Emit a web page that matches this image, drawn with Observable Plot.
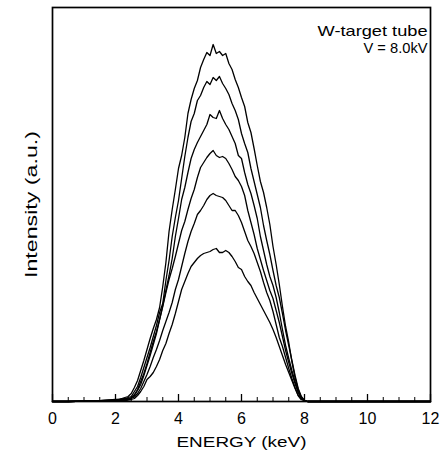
<!DOCTYPE html>
<html><head><meta charset="utf-8">
<script src="https://cdn.jsdelivr.net/npm/d3@7"></script>
<script src="https://cdn.jsdelivr.net/npm/@observablehq/plot@0.6"></script>
<style>body{margin:0;background:#fff;}</style>
</head><body><div id="chart"></div>
<script>
const energy = [0,0.5,1,1.5,2,2.1,2.2,2.3,2.4,2.5,2.6,2.7,2.8,2.9,3,3.1,3.2,3.3,3.4,3.5,3.6,3.7,3.8,3.9,4,4.1,4.2,4.3,4.4,4.5,4.6,4.7,4.8,4.9,5,5.1,5.2,5.3,5.4,5.5,5.6,5.7,5.8,5.9,6,6.1,6.2,6.3,6.4,6.5,6.6,6.7,6.8,6.9,7,7.1,7.2,7.3,7.4,7.5,7.6,7.7,7.8,7.9,8,8.1,8.5,9,9.5,10,10.5,11,11.5,12];
const curve1 = [0,0,0.3,0.8, 2,2,3,4,5,8,14,21,31,41, 52,63,73,82,94,115,139,170,192,212, 233,246,264,288,302,313,321,334,342,349, 346,357,348,350,346,348,338,332,322,314, 304,295,279,269,253,236,220,209,194,177, 155,137,117,95,75,59,40,24,12,4, 1,0, 0,0,0,0,0,0,0,0];
const curve2 = [0,0,0.3,0.8, 1.5,2,2.5,3,4,5,10,15,24,34, 44,54,65,76,89,98,121,141,165,184, 201,223,245,264,280,288,301,306,314,320, 317,324,321,325,318,313,307,298,291,282, 268,258,249,233,220,207,194,176,161,147, 131,116,104,88,71,56,41,26,13,5, 1,0, 0,0,0,0,0,0,0,0];
const curve3 = [0,0,0.3,0.8, 1,1.5,2,2.5,3,4,7,12,20,28, 38,49,60,70,82,96,111,126,143,165, 183,202,214,229,243,252,259,265,271,277, 287,284,283,291,283,277,272,265,258,246, 243,229,217,208,196,183,165,151,137,125, 116,104,89,72,56,43,31,20,10,4, 1,0, 0,0,0,0,0,0,0,0];
const curve4 = [0,0,0.3,0.8, 1,1,1.5,2,2.5,3.5,6,11,17,26, 36,46,57,68,82,95,109,122,133,145, 158,171,180,192,203,212,224,234,239,244, 248,251,246,244,245,243,238,232,225,221, 215,206,191,179,167,153,142,131,121,111, 103,91,79,65,51,39,28,18,9,3, 1,0, 0,0,0,0,0,0,0,0];
const curve5 = [0,0,0.3,0.8, 1,1,1,1.5,2,3,4.5,8,13,20, 27,35,44,52,61,71,80,89,99,112, 122,135,148,160,170,178,187,191,196,202, 206,208,206,205,204,201,196,191,191,186, 179,170,161,155,148,139,130,119,109,101, 90,77,64,55,44,33,23,14,6,2, 1,0, 0,0,0,0,0,0,0,0];
const curve6 = [0,0,0.3,0.8, 0.5,1,1,1,1.5,2,3,6,10,15, 22,25,29,35,42,51,58,68,77,88, 100,112,120,128,135,139,143,146,148,149, 150,152,153,149,149,151,149,145,140,134, 132,125,120,116,109,103,97,91,85,79, 72,64,55,46,37,29,21,13,6,2, 1,0, 0,0,0,0,0,0,0,0];
const xTicks = [0,2,4,6,8,10,12];
const minorTicks = [0.5,1,1.5,2.5,3,3.5,4.5,5,5.5,6.5,7,7.5,8.5,9,9.5,10.5,11,11.5];
const xLabel = "ENERGY (keV)";
const yLabel = "Intensity (a.u.)";
const note = ["W-target tube", "V = 8.0kV"];

const series = [curve1, curve2, curve3, curve4, curve5, curve6];
const rows = series.flatMap((vals, i) => vals.map((v, j) => ({energy: energy[j], intensity: v, s: i})));

const chart = Plot.plot({
  width: 443, height: 455,
  marginLeft: 52, marginRight: 13, marginTop: 7, marginBottom: 54,
  style: {fontFamily: "'Liberation Sans', Arial, sans-serif", background: "white", color: "black"},
  x: {domain: [0, 12]},
  y: {domain: [0, 394]},
  marks: [
    Plot.line(rows, {x: "energy", y: "intensity", z: "s", stroke: "black", strokeWidth: 1.3}),
    Plot.tickX(minorTicks, {x: d => d, stroke: "black", strokeWidth: 1, insetTop: 390}),
    Plot.tickX(xTicks, {x: d => d, stroke: "black", strokeWidth: 1.3, insetTop: 387}),
    Plot.axisX({ticks: xTicks, tickSize: 0, tickPadding: 11, fontSize: 16, label: null}),
    Plot.axisY({ticks: [], label: null}),
    Plot.frame({stroke: "black", strokeWidth: 1.7}),
    Plot.text([xLabel], {text: d => d, frameAnchor: "bottom", textAnchor: "middle", lineAnchor: "bottom", dy: 45, fontSize: 15}),
    Plot.text([yLabel], {text: d => d, frameAnchor: "left", textAnchor: "middle", lineAnchor: "middle", rotate: -90, dx: -21, fontSize: 17}),
    Plot.text([note[0]], {text: d => d, frameAnchor: "top-right", textAnchor: "end", lineAnchor: "top", dx: -3, dy: 18, fontSize: 15}),
    Plot.text([note[1]], {text: d => d, frameAnchor: "top-right", textAnchor: "end", lineAnchor: "top", dx: -3, dy: 35, fontSize: 15})
  ]
});
const stretch = {[xLabel]: 130, [yLabel]: 147, [note[0]]: 110, [note[1]]: 64};
chart.querySelectorAll("text").forEach(t => {
  const w = stretch[t.textContent];
  if (w) { t.setAttribute("textLength", w); t.setAttribute("lengthAdjust", "spacingAndGlyphs"); }
});
document.getElementById("chart").appendChild(chart);
</script>
</body></html>
